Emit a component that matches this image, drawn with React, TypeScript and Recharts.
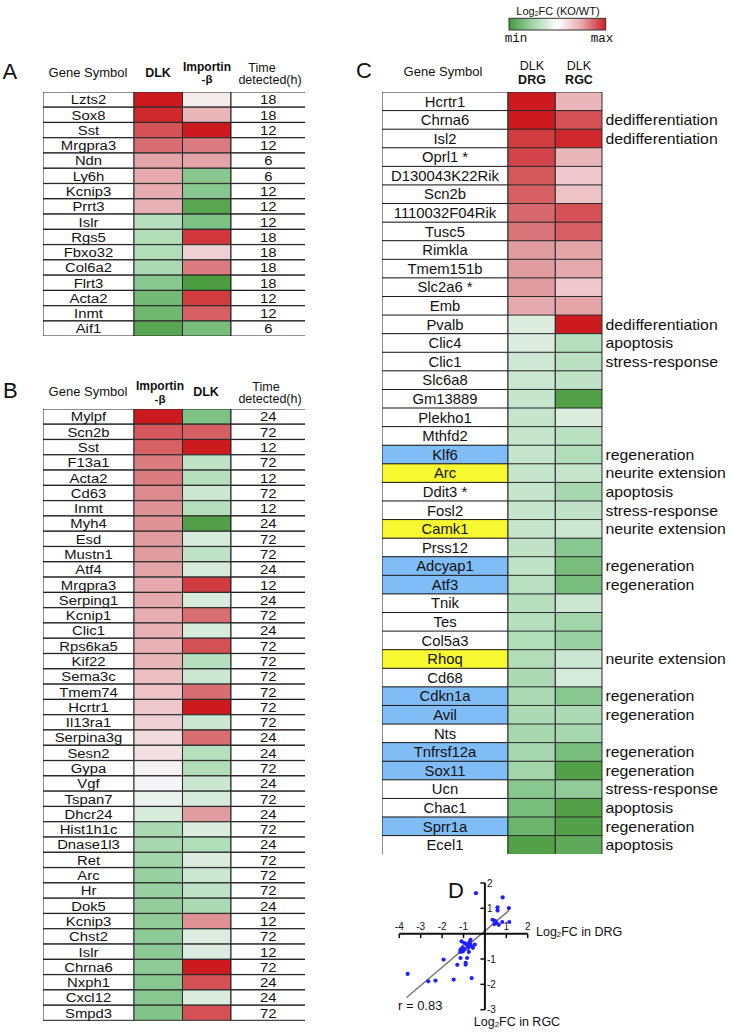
import React from 'react';
import { BarChart, Bar, XAxis, YAxis, Cell, LabelList, ScatterChart, Scatter, ReferenceLine } from 'recharts';

// ---------- DATA ----------
const genesA = ['Lzts2','Sox8','Sst','Mrgpra3','Ndn','Ly6h','Kcnip3','Prrt3','Islr','Rgs5','Fbxo32','Col6a2','Flrt3','Acta2','Inmt','Aif1'];
const dlkA = [1.0,0.95,0.8,0.7,0.45,0.42,0.4,0.38,-0.3,-0.32,-0.32,-0.35,-0.55,-0.7,-0.72,-0.9];
const impA = [0.06,0.35,1.0,0.65,0.45,-0.55,-0.55,-0.9,-0.6,0.9,0.2,0.65,-1.0,0.88,0.75,-0.65];
const timeA = [18,18,12,12,6,6,12,12,12,18,18,18,18,12,12,6];

const genesB = ['Mylpf','Scn2b','Sst','F13a1','Acta2','Cd63','Inmt','Myh4','Esd','Mustn1','Atf4','Mrgpra3','Serping1','Kcnip1','Clic1','Rps6ka5','Kif22','Sema3c','Tmem74','Hcrtr1','Il13ra1','Serpina3g','Sesn2','Gypa','Vgf','Tspan7','Dhcr24','Hist1h1c','Dnase1l3','Ret','Arc','Hr','Dok5','Kcnip3','Chst2','Islr','Chrna6','Nxph1','Cxcl12','Smpd3'];
const impB = [1.0,0.78,0.75,0.65,0.65,0.6,0.55,0.55,0.5,0.5,0.45,0.42,0.42,0.4,0.38,0.38,0.35,0.3,0.28,0.25,0.2,0.15,0.12,0.03,0.0,-0.05,-0.15,-0.35,-0.38,-0.4,-0.45,-0.45,-0.48,-0.5,-0.52,-0.52,-0.52,-0.55,-0.55,-0.58];
const dlkB = [-0.6,0.75,1.0,-0.25,-0.3,-0.2,-0.3,-0.95,-0.15,-0.25,-0.15,0.88,-0.15,0.7,-0.15,0.8,-0.3,-0.2,0.7,1.0,-0.2,0.7,-0.3,-0.32,-0.2,-0.15,0.5,-0.12,-0.32,-0.12,-0.2,-0.25,-0.35,0.55,-0.12,-0.12,1.0,0.8,-0.12,0.8];
const timeB = [24,72,12,72,12,72,12,24,72,72,24,12,24,72,24,72,72,72,72,72,72,24,24,72,24,72,24,72,24,72,72,72,24,12,72,12,72,24,24,72];

const genesC = ['Hcrtr1','Chrna6','Isl2','Oprl1 *','D130043K22Rik','Scn2b','1110032F04Rik','Tusc5','Rimkla','Tmem151b','Slc2a6 *','Emb','Pvalb','Clic4','Clic1','Slc6a8','Gm13889','Plekho1','Mthfd2','Klf6','Arc','Ddit3 *','Fosl2','Camk1','Prss12','Adcyap1','Atf3','Tnik','Tes','Col5a3','Rhoq','Cd68','Cdkn1a','Avil','Nts','Tnfrsf12a','Sox11','Ucn','Chac1','Sprr1a','Ecel1'];
const drgC = [1.0,1.0,0.88,0.85,0.78,0.75,0.72,0.68,0.5,0.5,0.5,0.42,-0.12,-0.12,-0.18,-0.2,-0.22,-0.22,-0.22,-0.22,-0.22,-0.22,-0.22,-0.22,-0.25,-0.25,-0.28,-0.3,-0.3,-0.32,-0.32,-0.35,-0.35,-0.35,-0.38,-0.38,-0.4,-0.55,-0.65,-0.75,-0.95];
const rgcC = [0.35,0.8,0.95,0.35,0.25,0.28,0.8,0.75,0.45,0.42,0.25,0.45,1.0,-0.3,-0.28,-0.25,-0.95,-0.12,-0.28,-0.32,-0.22,-0.38,-0.25,-0.2,-0.55,-0.65,-0.65,-0.2,-0.4,-0.45,-0.2,-0.15,-0.55,-0.35,-0.38,-0.65,-0.95,-0.5,-0.95,-0.95,-0.85];
const roleC = ['','dedifferentiation','dedifferentiation','','','','','','','','','','dedifferentiation','apoptosis','stress-response','','','','','regeneration','neurite extension','apoptosis','stress-response','neurite extension','','regeneration','regeneration','','','','neurite extension','','regeneration','regeneration','','regeneration','regeneration','stress-response','apoptosis','regeneration','apoptosis'];
const markC = ['','','','','','','','','','','','','','','','','','','','blue','yellow','','','yellow','','blue','blue','','','','yellow','','blue','blue','','blue','blue','','','blue',''];

const scatterDRG = [-0.42,0.83,1.12,0.59,0.59,0.36,0.47,0.55,0.65,0.81,1.14,0.44,-0.67,-1.09,-0.97,-0.81,-0.69,-0.62,-0.47,-0.56,-0.78,-1.04,-1.14,-1.03,-1.15,-0.75,-1.14,-0.83,-1.93,-1.29,-0.9,-0.9,-3.61,-2.65,-2.31,-1.46,-0.62,-0.88,-0.72,-0.95,0.5];
const scatterRGC = [1.6,1.43,1.01,1.04,0.91,0.55,0.51,0.42,0.35,0.46,0.46,0.38,-0.24,-0.3,-0.37,-0.46,-0.41,-0.5,-0.43,-0.56,-0.56,-0.54,-0.63,-0.7,-0.72,-0.72,-0.96,-0.96,-1.02,-1.23,-1.15,-1.22,-1.59,-1.88,-1.85,-1.81,-1.75,-0.4,-0.33,-0.62,0.45];
const fitLine = [{ x: -3.66, y: -2.52 }, { x: 1.13, y: 0.92 }];
const xTicks = [-4, -3, -2, -1, 0, 1, 2];
const yTicks = [2, 1, 0, -1, -2, -3];

// ---------- STYLE / LAYOUT ----------
const FONT = 'Liberation Sans, Arial, Helvetica, sans-serif';
const COLS_AB = [91, 48.5, 48.5, 74.5];
const COLS_C = [126, 47.3, 46.7];
const STOPS: [number, number[]][] = [
  [-1, [76, 156, 64]], [-0.6, [127, 194, 134]], [-0.3, [181, 223, 189]], [0, [246, 246, 248]],
  [0.3, [236, 191, 195]], [0.6, [220, 138, 142]], [1, [204, 26, 31]],
];
function colorOf(v: number) {
  const t = Math.max(-1, Math.min(1, v));
  for (let i = 0; i < STOPS.length - 1; i++) {
    const [a, ca] = STOPS[i];
    const [b, cb] = STOPS[i + 1];
    if (t >= a && t <= b) {
      const f = (t - a) / (b - a);
      const c = ca.map((x, k) => Math.round(x + (cb[k] - x) * f));
      return `rgb(${c[0]},${c[1]},${c[2]})`;
    }
  }
  return '#fff';
}
const HL: Record<string, string> = { blue: '#80bcf6', yellow: '#f8f830', '': '#ffffff' };

const centered = (fs: number, sx: number) => (p: any) => {
  const { x, y, width, height, value } = p;
  const cx = x + width / 2;
  const cy = y + height / 2;
  return (
    <text transform={`translate(${cx},${cy}) scale(${sx},1)`} textAnchor="middle" dy="0.36em"
      fontSize={fs} fontFamily={FONT} fill="#111">{value}</text>
  );
};
const rightText = (fs: number, sx: number) => (p: any) => {
  const { x, y, width, height, value } = p;
  if (!value) return null;
  const lx = x + width + 3.5;
  const cy = y + height / 2;
  return (
    <text transform={`translate(${lx},${cy}) scale(${sx},1)`} textAnchor="start" dy="0.36em"
      fontSize={fs} fontFamily={FONT} fill="#111">{value}</text>
  );
};

function HeatTable({ rows, cols, left, top, rowH, fs, sx }: any) {
  const total = cols.reduce((a: number, b: number) => a + b, 0);
  const h = rows.length * rowH;
  return (
    <div style={{ position: 'absolute', left, top }}>
      <BarChart layout="vertical" width={total} height={h} data={rows} barCategoryGap={0}
        margin={{ top: 0, right: 0, bottom: 0, left: 0 }}>
        <XAxis type="number" hide domain={[0, total]} />
        <YAxis type="category" dataKey="gene" hide width={0} />
        <Bar dataKey="w0" stackId="s" fill="#fff" stroke="#1a1a1a" strokeWidth={1} isAnimationActive={false}>
          <LabelList dataKey="gene" content={centered(fs, sx)} />
        </Bar>
        <Bar dataKey="w1" stackId="s" stroke="#2a2a2a" strokeWidth={1} isAnimationActive={false}>
          {rows.map((r: any, i: number) => <Cell key={i} fill={colorOf(r.v1)} />)}
        </Bar>
        <Bar dataKey="w2" stackId="s" stroke="#2a2a2a" strokeWidth={1} isAnimationActive={false}>
          {rows.map((r: any, i: number) => <Cell key={i} fill={colorOf(r.v2)} />)}
        </Bar>
        <Bar dataKey="w3" stackId="s" fill="#fff" stroke="#1a1a1a" strokeWidth={1} isAnimationActive={false}>
          <LabelList dataKey="time" content={centered(fs, sx)} />
        </Bar>
      </BarChart>
    </div>
  );
}

function TableC() {
  const rows = genesC.map((g, i) => ({
    gene: g, v1: drgC[i], v2: rgcC[i], role: roleC[i], mark: markC[i],
    w0: COLS_C[0], w1: COLS_C[1], w2: COLS_C[2],
  }));
  const total = COLS_C[0] + COLS_C[1] + COLS_C[2];
  const rowH = 18.59;
  return (
    <div style={{ position: 'absolute', left: 381.7, top: 92.3 }}>
      <BarChart layout="vertical" width={350} height={rows.length * rowH} data={rows} barCategoryGap={0}
        margin={{ top: 0, right: 350 - total, bottom: 0, left: 0 }}>
        <XAxis type="number" hide domain={[0, total]} />
        <YAxis type="category" dataKey="gene" hide width={0} />
        <Bar dataKey="w0" stackId="s" stroke="#1a1a1a" strokeWidth={1} isAnimationActive={false}>
          {rows.map((r, i) => <Cell key={i} fill={HL[r.mark]} />)}
          <LabelList dataKey="gene" content={centered(14, 1.06)} />
        </Bar>
        <Bar dataKey="w1" stackId="s" stroke="#2a2a2a" strokeWidth={1} isAnimationActive={false}>
          {rows.map((r, i) => <Cell key={i} fill={colorOf(r.v1)} />)}
        </Bar>
        <Bar dataKey="w2" stackId="s" stroke="#2a2a2a" strokeWidth={1} isAnimationActive={false}>
          {rows.map((r, i) => <Cell key={i} fill={colorOf(r.v2)} />)}
          <LabelList dataKey="role" content={rightText(14, 1.13)} />
        </Bar>
      </BarChart>
    </div>
  );
}

const XTick = (p: any) => {
  const { cx, cy, payload } = p;
  return (
    <g>
      <line x1={cx} y1={cy} x2={cx} y2={cy + 4.5} stroke="#111" strokeWidth={1.5} />
      {payload.x !== 0 && (
        <text x={cx} y={cy - 3.5} textAnchor="middle" fontSize={10} fontFamily={FONT} fill="#111">{payload.x}</text>
      )}
    </g>
  );
};
const YTick = (p: any) => {
  const { cx, cy, payload } = p;
  return (
    <g>
      <line x1={cx - 4.5} y1={cy} x2={cx} y2={cy} stroke="#111" strokeWidth={1.5} />
      {payload.y !== 0 && (
        <text x={cx + 2} y={cy} dy="0.36em" textAnchor="start" fontSize={10} fontFamily={FONT} fill="#111">{payload.y}</text>
      )}
    </g>
  );
};

function ScatterD() {
  const pts = scatterDRG.map((x, i) => ({ x, y: scatterRGC[i] }));
  const xt = xTicks.map((x) => ({ x, y: 0 }));
  const yt = yTicks.map((y) => ({ x: 0, y }));
  return (
    <div style={{ position: 'absolute', left: 380, top: 865 }}>
      <ScatterChart width={300} height={168} margin={{ top: 18, right: 152.3, bottom: 23.3, left: 19.3 }}>
        <XAxis type="number" dataKey="x" domain={[-4, 2]} hide />
        <YAxis type="number" dataKey="y" domain={[-3, 2]} hide width={0} />
        <ReferenceLine segment={fitLine} stroke="#7a7a7a" strokeWidth={1.5} ifOverflow="visible" />
        <ReferenceLine y={0} stroke="#111" strokeWidth={2} />
        <ReferenceLine x={0} stroke="#111" strokeWidth={2} />
        <Scatter data={xt} shape={XTick} isAnimationActive={false} />
        <Scatter data={yt} shape={YTick} isAnimationActive={false} />
        <Scatter data={pts} fill="#1f1fff" isAnimationActive={false}
          shape={(p: any) => <circle cx={p.cx} cy={p.cy} r={2.1} fill="#1f1fff" />} />
      </ScatterChart>
    </div>
  );
}

function Log2({ x, y, fs, anchor = 'start', rest }: any) {
  return (
    <text x={x} y={y} fontSize={fs} fontFamily={FONT} textAnchor={anchor} fill="#111">
      Log<tspan fontSize={fs * 0.62} dy={1}>2</tspan><tspan dy={-1}>{rest}</tspan>
    </text>
  );
}

function Overlay() {
  const T = (x: number, y: number, s: string, fs: number, bold = false, anchor = 'middle') => (
    <text x={x} y={y} fontSize={fs} fontFamily={FONT} fontWeight={bold ? 700 : 400} textAnchor={anchor} fill="#111">{s}</text>
  );
  return (
    <svg width={732} height={1033} style={{ position: 'absolute', left: 0, top: 0, pointerEvents: 'none' }}>
      <defs>
        <linearGradient id="lg" x1="0" x2="1" y1="0" y2="0">
          <stop offset="0" stopColor="#3f9b3f" />
          <stop offset="0.25" stopColor="#a3d5a8" />
          <stop offset="0.5" stopColor="#ffffff" />
          <stop offset="0.75" stopColor="#e8a9ad" />
          <stop offset="1" stopColor="#cc1f26" />
        </linearGradient>
      </defs>
      {/* legend */}
      <Log2 x={558} y={15} fs={11} anchor="middle" rest="FC (KO/WT)" />
      <rect x={509} y={18.3} width={96.7} height={11.7} fill="url(#lg)" stroke="#333" strokeWidth={1} />
      <text x={516} y={42} fontSize={12.5} fontFamily="Liberation Mono, Courier New, monospace" textAnchor="middle" fill="#111">min</text>
      <text x={602} y={42} fontSize={12.5} fontFamily="Liberation Mono, Courier New, monospace" textAnchor="middle" fill="#111">max</text>

      {/* A */}
      {T(2.5, 79, 'A', 22, false, 'start')}
      {T(88, 77, 'Gene Symbol', 13)}
      {T(158, 77, 'DLK', 12.5, true)}
      {T(207, 70.5, 'Importin', 12, true)}
      {T(207, 83, '-β', 11.5, true)}
      {T(262, 71.5, 'Time', 12.5)}
      {T(270, 84, 'detected(h)', 12.5)}

      {/* B */}
      {T(3, 398, 'B', 22, false, 'start')}
      {T(88, 395.5, 'Gene Symbol', 13)}
      {T(160, 389.5, 'Importin', 12, true)}
      {T(160, 402.5, '-β', 11.5, true)}
      {T(206, 395.5, 'DLK', 12.5, true)}
      {T(266, 390.5, 'Time', 12.5)}
      {T(270, 403, 'detected(h)', 12.5)}

      {/* C */}
      {T(356, 78, 'C', 22, false, 'start')}
      {T(443, 75.5, 'Gene Symbol', 13)}
      {T(532, 70, 'DLK', 12.5)}
      {T(532, 83.5, 'DRG', 12.5, true)}
      {T(579, 70, 'DLK', 12.5)}
      {T(579, 83.5, 'RGC', 12.5, true)}

      {/* D */}
      {T(448, 898, 'D', 22, false, 'start')}
      <Log2 x={536} y={936} fs={12.5} rest="FC in DRG" />
      <Log2 x={517} y={1026} fs={12.5} anchor="middle" rest="FC in RGC" />
      {T(398, 1010, 'r = 0.83', 13, false, 'start')}
    </svg>
  );
}

export default function App() {
  const rowsA = genesA.map((g, i) => ({ gene: g, v1: dlkA[i], v2: impA[i], time: timeA[i], w0: COLS_AB[0], w1: COLS_AB[1], w2: COLS_AB[2], w3: COLS_AB[3] }));
  const rowsB = genesB.map((g, i) => ({ gene: g, v1: impB[i], v2: dlkB[i], time: timeB[i], w0: COLS_AB[0], w1: COLS_AB[1], w2: COLS_AB[2], w3: COLS_AB[3] }));
  return (
    <div style={{ position: 'absolute', left: 0, top: 0, width: 732, height: 1033, background: '#fff', overflow: 'hidden' }}>
      <HeatTable rows={rowsA} cols={COLS_AB} left={42.7} top={91.7} rowH={15.27} fs={13.5} sx={1.1} />
      <HeatTable rows={rowsB} cols={COLS_AB} left={42.5} top={409} rowH={15.29} fs={13.5} sx={1.1} />
      <TableC />
      <ScatterD />
      <Overlay />
    </div>
  );
}
